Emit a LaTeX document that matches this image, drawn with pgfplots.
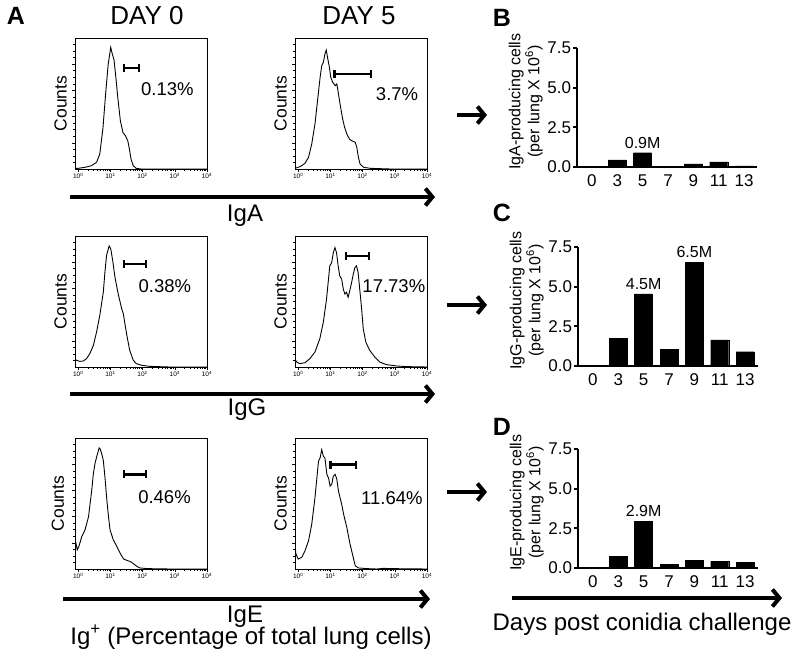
\documentclass[border=0pt]{standalone}
\usepackage{pgfplots}
\pgfplotsset{compat=1.18}
\usepackage{fontspec}
\setmainfont{Liberation Sans}
\setsansfont{Liberation Sans}
\usetikzlibrary{arrows.meta}

\pgfplotsset{
  histo/.style={
    scale only axis, width=132pt, height=131pt, anchor=south west,
    xmin=-0.1, xmax=4, ymin=0, ymax=1, clip mode=individual,
    axis line style={line width=0.8pt},
    tick align=outside, tick pos=left,
    xtick={0,1,2,3,4},
    xticklabels={10\textsuperscript{0},10\textsuperscript{1},10\textsuperscript{2},10\textsuperscript{3},10\textsuperscript{4}},
    minor xtick={0.301,0.477,0.602,0.699,0.778,0.845,0.903,0.954,
                 1.301,1.477,1.602,1.699,1.778,1.845,1.903,1.954,
                 2.301,2.477,2.602,2.699,2.778,2.845,2.903,2.954,
                 3.301,3.477,3.602,3.699,3.778,3.845,3.903,3.954},
    ytick={0.2,0.4,0.6,0.8}, yticklabels={},
    minor ytick={0.05,0.1,0.15,0.25,0.3,0.35,0.45,0.5,0.55,0.65,0.7,0.75,0.85,0.9,0.95},
    major tick length=3pt, minor tick length=1.8pt,
    every tick/.style={line width=0.5pt, black},
    xticklabel style={font=\fontsize{6.5}{7}\selectfont, inner sep=1pt},
  },
  hline/.style={line width=0.9pt, black, no marks},
  bars/.style={
    scale only axis, width=180pt, height=119pt, anchor=south west,
    xmin=-0.59, xmax=6.51, ymin=0, ymax=7.5, clip mode=individual,
    axis x line=bottom, axis y line=left,
    axis line style={line width=1.8pt,-},
    xtick={0,...,6}, xticklabels={0,3,5,7,9,11,13},
    ytick={0,2.5,5,7.5}, yticklabels={0.0,2.5,5.0,7.5},
    x tick style={draw=none},
    y tick style={line width=1.8pt, black},
    tick align=outside, major tick length=4pt,
    xticklabel style={font=\fontsize{17}{19}\selectfont},
    yticklabel style={font=\fontsize{17}{19}\selectfont, xshift=1.5pt},
    ylabel style={font=\fontsize{16}{19}\selectfont, align=center,
      at={(axis description cs:-0.285,0.55)}, anchor=center},
    ybar, bar width=18pt,
  },
}
\tikzset{
  gate/.style={line width=2.2pt, {Bar[width=8pt]}-{Bar[width=8pt]}},
  pct/.style={font=\fontsize{18.5}{20}\selectfont},
  cnt/.style={font=\fontsize{17.5}{18}\selectfont, rotate=90},
  bigarrow/.style={line width=4pt, -{Straight Barb[length=7pt,width=17pt]}},
  big/.style={font=\fontsize{24}{28}\selectfont, anchor=base},
  day/.style={font=\fontsize{26}{30}\selectfont, anchor=base},
  letter/.style={font=\fontsize{25}{28}\selectfont\bfseries, anchor=base},
  mlab/.style={font=\fontsize{16}{18}\selectfont, anchor=south, inner sep=0pt, yshift=4pt},
}

\begin{document}
\begin{tikzpicture}[x=1pt,y=1pt]
\useasboundingbox (0,0) rectangle (800,665);

% ---------- Row 1: IgA ----------
\begin{axis}[histo, at={(75pt,496pt)}]
\addplot[hline] coordinates {(-0.1,0.004) (0.0,0.005) (0.21,0.013) (0.41,0.025) (0.57,0.051) (0.67,0.114) (0.77,0.316) (0.85,0.570) (0.93,0.797) (1.01,0.929) (1.05,0.886) (1.11,0.835) (1.16,0.722) (1.23,0.544) (1.31,0.367) (1.39,0.278) (1.47,0.253) (1.54,0.215) (1.59,0.152) (1.64,0.076) (1.71,0.025) (1.80,0.005) (1.95,0.0) (4,0)};
\draw[gate] (axis cs:1.39,0.772) -- (axis cs:1.93,0.772);
\node[pct] at (axis cs:2.77,0.61) {0.13\%};
\node[cnt] at (axis description cs:-0.11,0.5) {Counts};
\end{axis}

\begin{axis}[histo, at={(295pt,496pt)}]
\addplot[hline] coordinates {(-0.10,0.005) (0.06,0.018) (0.21,0.043) (0.32,0.089) (0.42,0.191) (0.52,0.344) (0.60,0.522) (0.68,0.700) (0.73,0.789) (0.78,0.814) (0.83,0.878) (0.87,0.908) (0.91,0.852) (0.97,0.774) (1.01,0.700) (1.07,0.662) (1.15,0.636) (1.20,0.649) (1.25,0.573) (1.30,0.496) (1.37,0.394) (1.44,0.318) (1.51,0.267) (1.59,0.229) (1.66,0.216) (1.77,0.204) (1.82,0.165) (1.87,0.089) (1.92,0.038) (2.03,0.013) (2.24,0.005) (2.86,0.0) (4,0)};
\draw[gate] (axis cs:1.09,0.725) -- (axis cs:2.29,0.725);
\node[pct] at (axis cs:3.07,0.57) {3.7\%};
\node[cnt] at (axis description cs:-0.11,0.5) {Counts};
\end{axis}

% ---------- Row 2: IgG ----------
\begin{axis}[histo, at={(75pt,298pt)}]
\addplot[hline] coordinates {(-0.10,0.059) (-0.05,0.051) (0.05,0.043) (0.16,0.046) (0.26,0.064) (0.36,0.102) (0.47,0.165) (0.57,0.267) (0.67,0.394) (0.78,0.573) (0.83,0.725) (0.88,0.852) (0.96,0.924) (1.01,0.903) (1.07,0.814) (1.14,0.687) (1.24,0.560) (1.35,0.445) (1.40,0.407) (1.45,0.331) (1.52,0.229) (1.60,0.127) (1.71,0.051) (1.81,0.025) (1.97,0.013) (2.22,0.005) (2.84,0.0) (4,0)};
\draw[gate] (axis cs:1.38,0.784) -- (axis cs:2.14,0.784);
\node[pct] at (axis cs:2.69,0.62) {0.38\%};
\node[cnt] at (axis description cs:-0.11,0.5) {Counts};
\end{axis}

\begin{axis}[histo, at={(295pt,298pt)}]
\addplot[hline] coordinates {(-0.10,0.063) (-0.05,0.038) (0.05,0.025) (0.21,0.033) (0.36,0.063) (0.52,0.114) (0.67,0.215) (0.78,0.342) (0.88,0.519) (0.98,0.772) (1.04,0.797) (1.09,0.873) (1.14,0.911) (1.19,0.873) (1.24,0.772) (1.29,0.696) (1.35,0.671) (1.40,0.595) (1.45,0.557) (1.50,0.570) (1.55,0.532) (1.60,0.582) (1.66,0.646) (1.71,0.709) (1.76,0.759) (1.81,0.772) (1.86,0.722) (1.91,0.595) (1.97,0.443) (2.02,0.291) (2.10,0.190) (2.22,0.127) (2.38,0.076) (2.53,0.038) (2.74,0.018) (3.05,0.008) (3.36,0.003) (4.0,0.0)};
\draw[gate] (axis cs:1.45,0.848) -- (axis cs:2.24,0.848);
\node[pct] at (axis cs:2.97,0.62) {17.73\%};
\node[cnt] at (axis description cs:-0.11,0.5) {Counts};
\end{axis}

% ---------- Row 3: IgE ----------
\begin{axis}[histo, at={(75pt,96pt)}]
\addplot[hline] coordinates {(-0.10,0.222) (-0.07,0.197) (-0.03,0.146) (0.02,0.172) (0.11,0.247) (0.21,0.298) (0.32,0.399) (0.37,0.500) (0.42,0.601) (0.47,0.727) (0.52,0.803) (0.57,0.854) (0.65,0.924) (0.68,0.917) (0.73,0.879) (0.78,0.828) (0.83,0.702) (0.89,0.525) (0.94,0.399) (0.99,0.298) (1.09,0.222) (1.20,0.172) (1.30,0.121) (1.41,0.076) (1.51,0.066) (1.61,0.058) (1.72,0.040) (1.82,0.020) (1.92,0.008) (2.13,0.003) (2.86,0.0) (4,0)};
\draw[gate] (axis cs:1.38,0.722) -- (axis cs:2.13,0.722);
\node[pct] at (axis cs:2.68,0.55) {0.46\%};
\node[cnt] at (axis description cs:-0.13,0.5) {Counts};
\end{axis}

\begin{axis}[histo, at={(295pt,96pt)}]
\addplot[hline] coordinates {(-0.10,0.165) (-0.07,0.114) (0.00,0.076) (0.11,0.089) (0.21,0.139) (0.32,0.215) (0.42,0.342) (0.52,0.544) (0.63,0.823) (0.68,0.848) (0.73,0.911) (0.78,0.861) (0.83,0.848) (0.89,0.722) (0.94,0.696) (0.99,0.633) (1.04,0.646) (1.09,0.709) (1.15,0.722) (1.20,0.684) (1.25,0.595) (1.30,0.544) (1.35,0.494) (1.41,0.418) (1.51,0.316) (1.61,0.190) (1.72,0.076) (1.77,0.025) (1.87,0.008) (2.13,0.003) (2.44,0.0) (2.65,0.005) (2.86,0.003) (4.0,0.0)};
\draw[gate] (axis cs:0.97,0.797) -- (axis cs:1.82,0.797);
\node[pct] at (axis cs:2.91,0.544) {11.64\%};
\node[cnt] at (axis description cs:-0.11,0.5) {Counts};
\end{axis}

% ---------- Bar charts ----------
\begin{axis}[bars, at={(577pt,498pt)},
  ylabel={IgA-producing cells\\(per lung X 10\textsuperscript{6})}]
\addplot[fill=black, draw=black] coordinates {(0,0) (1,0.45) (2,0.9) (3,0.05) (4,0.2) (5,0.33) (6,0.07)};
\node[mlab] at (axis cs:2,0.9) {0.9M};
\end{axis}

\begin{axis}[bars, at={(578pt,299pt)},
  ylabel={IgG-producing cells\\(per lung X 10\textsuperscript{6})}]
\addplot[fill=black, draw=black] coordinates {(0,0) (1,1.75) (2,4.55) (3,1.05) (4,6.55) (5,1.65) (6,0.9)};
\node[mlab] at (axis cs:2,4.55) {4.5M};
\node[mlab] at (axis cs:4,6.55) {6.5M};
\end{axis}

\begin{axis}[bars, at={(578pt,97pt)},
  ylabel={IgE-producing cells\\(per lung X 10\textsuperscript{6})}]
\addplot[fill=black, draw=black] coordinates {(0,0) (1,0.75) (2,2.95) (3,0.25) (4,0.5) (5,0.42) (6,0.35)};
\node[mlab] at (axis cs:2,2.95) {2.9M};
\end{axis}

% ---------- Annotations ----------
\node[letter] at (16,640) {A};
\node[day] at (147,640) {DAY 0};
\node[day] at (359,640) {DAY 5};
\node[letter] at (502,638) {B};
\node[letter] at (502,443) {C};
\node[letter] at (502,230) {D};

\draw[bigarrow] (70,468) -- (435,468);
\node[big] at (245,443) {IgA};
\draw[bigarrow] (70,271) -- (435,271);
\node[big] at (247,250) {IgG};
\draw[bigarrow] (63,66) -- (430,66);
\node[big] at (245,43) {IgE};
\node[big] at (251,21) {Ig\textsuperscript{+} (Percentage of total lung cells)};

\draw[bigarrow] (512,67) -- (782,67);
\node[big] at (642,35) {Days post conidia challenge};

\draw[bigarrow] (457,550) -- (487,550);
\draw[bigarrow] (447,360) -- (487,360);
\draw[bigarrow] (447,173) -- (487,173);
\end{tikzpicture}
\end{document}
